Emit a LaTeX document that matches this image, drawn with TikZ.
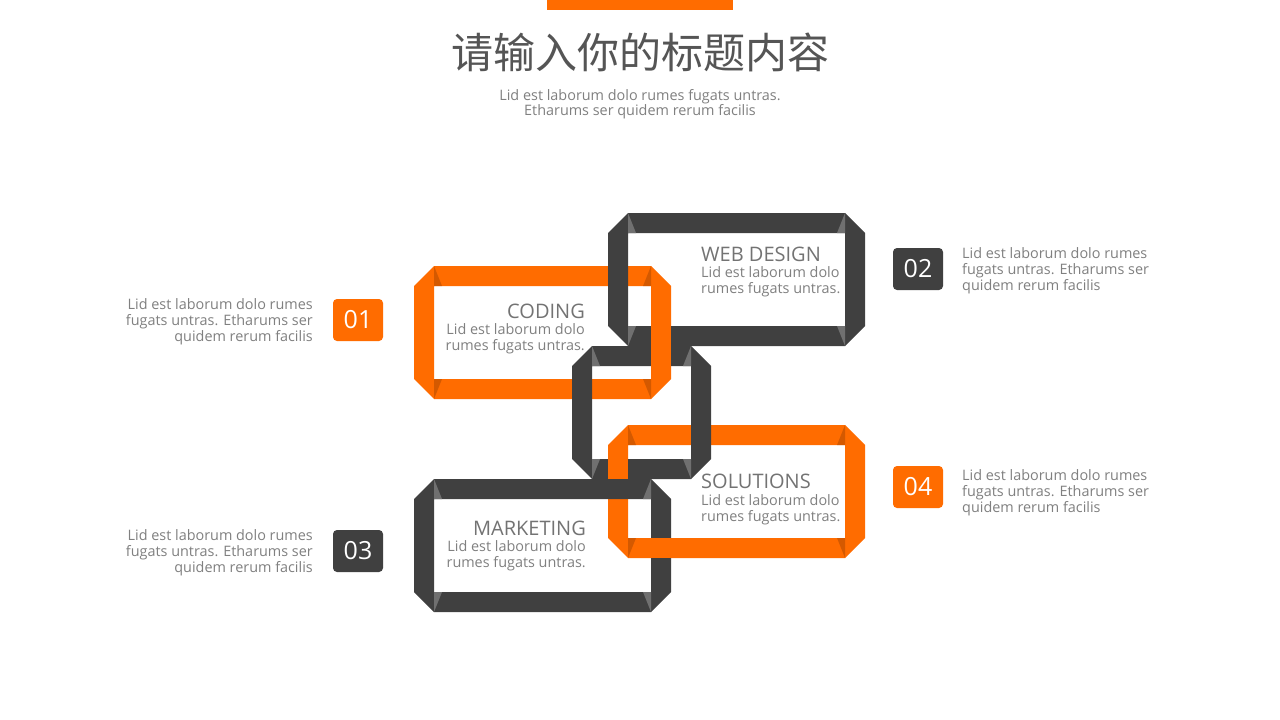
\documentclass[tikz,border=0pt]{standalone}
\usepackage{fontspec}
\setmainfont{Open Sans}
\newfontfamily\cjk{Noto Sans CJK SC}
\definecolor{chainorange}{RGB}{255,108,0}
\definecolor{chaindark}{RGB}{64,64,64}
\definecolor{titlegray}{RGB}{85,85,85}
\definecolor{textgray}{RGB}{128,128,128}

% one link of the chain: x0, y0, x1, y1, colour, fold colour
\newcommand{\ringlink}[6]{%
  \fill[#5, even odd rule] (#1+20,#2) -- (#3-20,#2) -- (#3,#2+20) -- (#3,#4-20)
    -- (#3-20,#4) -- (#1+20,#4) -- (#1,#4-20) -- (#1,#2+20) -- cycle
    (#1+20,#2+20) rectangle (#3-20,#4-20);
  \fill[#6] (#1+20,#2) -- (#1+20,#2+20) -- (#1+28,#2+20) -- cycle;
  \fill[#6] (#3-20,#2) -- (#3-20,#2+20) -- (#3-28,#2+20) -- cycle;
  \fill[#6] (#1+20,#4) -- (#1+20,#4-20) -- (#1+28,#4-20) -- cycle;
  \fill[#6] (#3-20,#4) -- (#3-20,#4-20) -- (#3-28,#4-20) -- cycle;
}

\tikzset{
  numbox/.style={rounded corners=4pt, minimum width=50pt, minimum height=42pt,
    inner sep=0pt, text=white, font=\fontsize{25}{25}\selectfont},
  sidetext/.style={text=textgray, inner sep=0pt, font=\fontsize{14.4}{16}\selectfont},
  linkhead/.style={text=textgray!90!black, inner sep=0pt, font=\fontsize{20}{20}\selectfont},
  orangefold/.style={chainorange!70!black, opacity=.55},
  darkfold/.style={white!25!chaindark},
}

\begin{document}
\begin{tikzpicture}[x=1pt, y=-1pt]
  \useasboundingbox[fill=white] (0,0) rectangle (1280,720);

  \fill[chainorange] (547,0) rectangle (733,10);
  \node[text=titlegray, inner sep=0pt, font=\fontsize{42}{42}\selectfont] (title) at (640,52) {\cjk 请输入你的标题内容};
  \node[sidetext, align=center, anchor=base, font=\fontsize{14.4}{15.5}\selectfont] (subtitle) at (640,115.5)
    {Lid est laborum dolo rumes fugats untras.\\Etharums ser quidem rerum facilis};

  % chain links
  \ringlink{414}{266}{671}{399}{chainorange}{orangefold}
  \ringlink{608}{425}{865}{558}{chainorange}{orangefold}
  \ringlink{608}{213}{865}{346}{chaindark}{darkfold}
  \ringlink{572}{346}{711}{479}{chaindark}{darkfold}
  \ringlink{414}{479}{671}{612}{chaindark}{darkfold}
  % orange over dark where the links cross
  \fill[chainorange] (651,286) rectangle (671,379);
  \fill[chainorange] (608,445) rectangle (628,479);
  \fill[chainorange] (640,538) rectangle (830,558);

  % texts in the links
  \node[linkhead, anchor=base east] (codinghead) at (585,318) {CODING};
  \node[sidetext, anchor=base east, align=right] (codingtext) at (585,350) {Lid est laborum dolo\\rumes fugats untras.};
  \node[linkhead, anchor=base west] (webhead) at (701,261) {WEB DESIGN};
  \node[sidetext, anchor=base west, align=left] (webtext) at (701,293) {Lid est laborum dolo\\rumes fugats untras.};
  \node[linkhead, anchor=base west] (solhead) at (701,488) {SOLUTIONS};
  \node[sidetext, anchor=base west, align=left] (soltext) at (701,521) {Lid est laborum dolo\\rumes fugats untras.};
  \node[linkhead, anchor=base east] (markhead) at (586,535) {MARKETING};
  \node[sidetext, anchor=base east, align=right] (marktext) at (586,567) {Lid est laborum dolo\\rumes fugats untras.};

  % numbers and side notes
  \node[numbox, fill=chainorange] (num1) at (358,320) {01};
  \node[numbox, fill=chaindark] (num2) at (918,269) {02};
  \node[numbox, fill=chaindark] (num3) at (358,551) {03};
  \node[numbox, fill=chainorange] (num4) at (918,487) {04};

  \node[sidetext, anchor=base east, align=right] (note1) at (313,341)
    {Lid est laborum dolo rumes\\fugats untras. Etharums ser\\quidem rerum facilis};
  \node[sidetext, anchor=base west, align=left] (note2) at (962,290)
    {Lid est laborum dolo rumes\\fugats untras. Etharums ser\\quidem rerum facilis};
  \node[sidetext, anchor=base east, align=right] (note3) at (313,572)
    {Lid est laborum dolo rumes\\fugats untras. Etharums ser\\quidem rerum facilis};
  \node[sidetext, anchor=base west, align=left] (note4) at (962,512)
    {Lid est laborum dolo rumes\\fugats untras. Etharums ser\\quidem rerum facilis};
\end{tikzpicture}
\end{document}
